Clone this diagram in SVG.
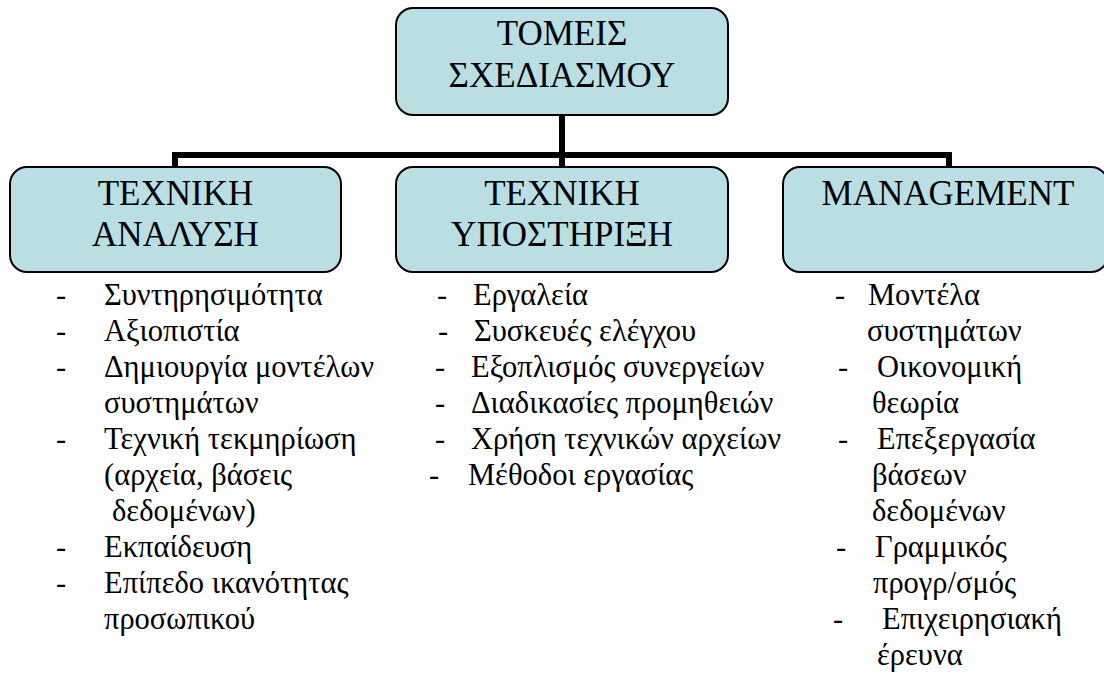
<svg xmlns="http://www.w3.org/2000/svg" width="1104" height="680" viewBox="0 0 1104 680" font-family="'Liberation Serif', 'Times New Roman', serif">
  <style>
    .box { fill: #B9DFE3; stroke: #000; stroke-width: 2; }
    .title { font-size: 35px; fill: #000; text-anchor: middle; }
    .item { font-size: 30.5px; fill: #000; }
    .link { stroke: #000; stroke-width: 6; fill: none; stroke-linecap: butt; }
  </style>
  <rect width="1104" height="680" fill="#fff"/>

  <!-- hierarchy connectors -->
  <g id="connectors">
    <line class="link" x1="562" y1="115" x2="562" y2="167"/>
    <line class="link" x1="172" y1="155" x2="952" y2="155"/>
    <line class="link" x1="175" y1="155" x2="175" y2="167"/>
    <line class="link" x1="949" y1="155" x2="949" y2="167"/>
  </g>

  <!-- root -->
  <g id="node-root">
    <rect class="box" x="396" y="8" width="332" height="107" rx="17"/>
    <text class="title" x="562" y="45">ΤΟΜΕΙΣ</text>
    <text class="title" x="562" y="87">ΣΧΕΔΙΑΣΜΟΥ</text>
  </g>

  <!-- technical analysis -->
  <g id="node-analysis">
    <rect class="box" x="10" y="167" width="331" height="105" rx="17"/>
    <text class="title" x="175.5" y="205">ΤΕΧΝΙΚΗ</text>
    <text class="title" x="175.5" y="246">ΑΝΑΛΥΣΗ</text>
  </g>

  <!-- technical support -->
  <g id="node-support">
    <rect class="box" x="396" y="167" width="332" height="105" rx="17"/>
    <text class="title" x="562" y="205">ΤΕΧΝΙΚΗ</text>
    <text class="title" x="562" y="246">ΥΠΟΣΤΗΡΙΞΗ</text>
  </g>

  <!-- management -->
  <g id="node-management">
    <rect class="box" x="783" y="167" width="325" height="105" rx="17"/>
    <text class="title" x="948" y="205">MANAGEMENT</text>
  </g>

  <!-- analysis items -->
  <g id="list-analysis" class="item">
    <text x="56" y="305">-</text><text x="104" y="305">Συντηρησιμότητα</text>
    <text x="56" y="341">-</text><text x="104" y="341">Αξιοπιστία</text>
    <text x="56" y="377">-</text><text x="104" y="377">Δημιουργία μοντέλων</text>
    <text x="104" y="413">συστημάτων</text>
    <text x="56" y="449">-</text><text x="104" y="449">Τεχνική τεκμηρίωση</text>
    <text x="104" y="485">(αρχεία, βάσεις</text>
    <text x="112" y="521">δεδομένων)</text>
    <text x="56" y="557">-</text><text x="104" y="557">Εκπαίδευση</text>
    <text x="56" y="593">-</text><text x="104" y="593">Επίπεδο ικανότητας</text>
    <text x="104" y="629">προσωπικού</text>
  </g>

  <!-- support items -->
  <g id="list-support" class="item">
    <text x="437" y="305">-</text><text x="473" y="305">Εργαλεία</text>
    <text x="438" y="341">-</text><text x="474" y="341">Συσκευές ελέγχου</text>
    <text x="435" y="377">-</text><text x="471" y="377">Εξοπλισμός συνεργείων</text>
    <text x="435" y="413">-</text><text x="471" y="413">Διαδικασίες προμηθειών</text>
    <text x="435" y="449">-</text><text x="471" y="449">Χρήση τεχνικών αρχείων</text>
    <text x="429" y="485">-</text><text x="468" y="485">Μέθοδοι εργασίας</text>
  </g>

  <!-- management items -->
  <g id="list-management" class="item">
    <text x="835" y="305">-</text><text x="868" y="305">Μοντέλα</text>
    <text x="867" y="341">συστημάτων</text>
    <text x="838" y="377">-</text><text x="877" y="377">Οικονομική</text>
    <text x="872" y="413">θεωρία</text>
    <text x="838" y="449">-</text><text x="877" y="449">Επεξεργασία</text>
    <text x="872" y="485">βάσεων</text>
    <text x="872" y="521">δεδομένων</text>
    <text x="836" y="557">-</text><text x="875" y="557">Γραμμικός</text>
    <text x="873" y="593">προγρ/σμός</text>
    <text x="833" y="629">-</text><text x="882" y="629">Επιχειρησιακή</text>
    <text x="877" y="665">έρευνα</text>
  </g>
</svg>
